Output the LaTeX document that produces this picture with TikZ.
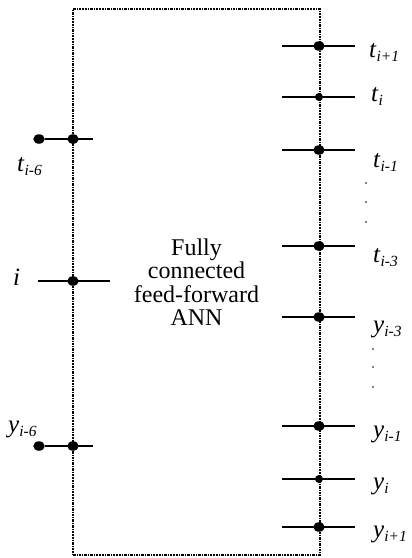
\documentclass[tikz,border=0pt]{standalone}
\usepackage{fontspec}
\setmainfont{Liberation Serif}
\usetikzlibrary{positioning,shapes.geometric}
\newcommand{\lab}[2]{\textit{#1}\raisebox{-0.4ex}{\fontsize{15.5}{15.5}\selectfont\textit{#2}}}

\begin{document}
\begin{tikzpicture}[
    x=1pt,y=-1pt,
    frame/.style={draw,line width=1.8pt,dash pattern=on 2.5pt off 1pt on 1.2pt off 1pt,minimum width=247pt,minimum height=546pt,inner sep=0pt,align=center,font=\fontsize{24}{23.5}\selectfont},
    wire/.style={line width=1.7pt},
    bigdot/.style={ellipse,fill,inner sep=0pt,minimum width=11.5pt,minimum height=9.5pt},
    smalldot/.style={circle,fill,inner sep=0pt,minimum size=8pt},
    lbl/.style={anchor=base west,inner sep=0pt,font=\fontsize{25}{25}\selectfont}
]
\useasboundingbox (0,0) rectangle (412,558);

% the network
\node[frame] (ann) at (196.5,282) {Fully\\connected\\feed-forward\\ANN};

% inputs
\node[bigdot] (ta0) at (39,139) {};
\node[bigdot] (ta) at (73,139) {};
\coordinate (ta-r) at (93,139);
\draw[wire] (ta0) -- (ta-r);
\node[lbl] at (17,171) {\lab{t}{i-6}};

\coordinate (in-l) at (38,281);
\coordinate (in-r) at (110,281);
\draw[wire] (in-l) -- (in-r);
\node[bigdot] (in) at (73,281) {};
\node[lbl] at (13,285) {\textit{i}};

\node[bigdot] (ya0) at (39,446) {};
\node[bigdot] (ya) at (73,446) {};
\coordinate (ya-r) at (93,446);
\draw[wire] (ya0) -- (ya-r);
\node[lbl] at (8,432) {\lab{y}{i-6}};

% outputs
\foreach \n/\y/\b/\x/\v/\s/\d in {
    o1/46/57/369/t/i+1/bigdot,
    o2/97/101/371/t/i/smalldot,
    o3/150/167/373/t/i-1/bigdot,
    o4/246/262/373/t/i-3/bigdot,
    o5/317/332/373/y/i-3/bigdot,
    o6/426/437/373/y/i-1/bigdot,
    o7/479/489/373/y/i/smalldot,
    o8/527/537/373/y/i+1/bigdot}{
  \coordinate (\n-l) at (282,\y);
  \coordinate (\n-r) at (355,\y);
  \draw[wire] (\n-l) -- (\n-r);
  \node[\d] (\n) at (319,\y) {};
  \node[lbl] at (\x,\b) {\lab{\v}{\s}};
}

% skipped rows
\foreach \y in {183,202,222} \fill (366,\y) circle (0.9);
\foreach \y in {349,367,387} \fill (373,\y) circle (0.9);
\end{tikzpicture}
\end{document}
